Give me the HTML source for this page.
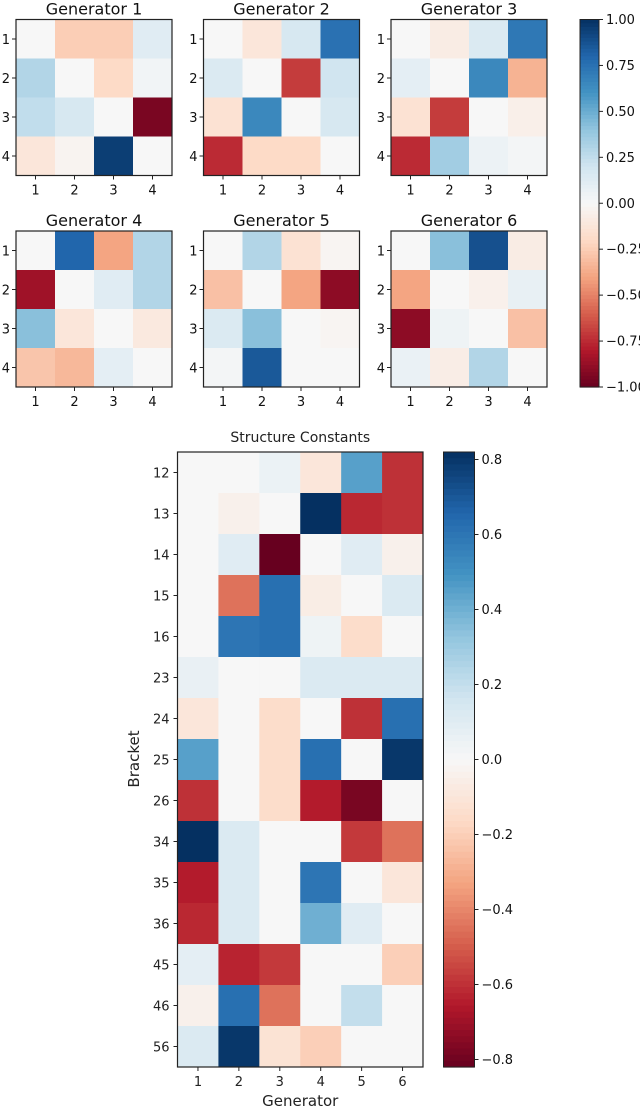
<!DOCTYPE html>
<html><head><meta charset="utf-8"><style>
body{margin:0;background:#fff;width:640px;height:1110px;overflow:hidden}
svg{display:block;font-family:"DejaVu Sans","Liberation Sans",sans-serif}
</style></head><body>
<svg id="chart" width="640" height="1110" viewBox="0 0 640 1110"></svg>
<script>
const genTitles = ["Generator 1","Generator 2","Generator 3","Generator 4","Generator 5","Generator 6"];
const smallTicks = ["1","2","3","4"];
const gen1 = [[0,-0.25,-0.25,0.12],[0.3,0,-0.2,0.03],[0.25,0.17,0,-0.95],[-0.12,-0.03,0.95,0]];
const gen2 = [[0,-0.12,0.17,0.75],[0.15,0,-0.7,0.2],[-0.15,0.65,0,0.17],[-0.75,-0.2,-0.2,0]];
const gen3 = [[0,-0.08,0.15,0.72],[0.1,0,0.65,-0.35],[-0.15,-0.7,0,-0.06],[-0.75,0.35,0.06,0.02]];
const gen4 = [[0,0.8,-0.4,0.3],[-0.85,0,0.12,0.3],[0.42,-0.12,0,-0.1],[-0.28,-0.33,0.1,0]];
const gen5 = [[0,0.3,-0.15,-0.02],[-0.3,0,-0.4,-0.9],[0.15,0.42,0,-0.02],[0.02,0.85,0,0]];
const gen6 = [[0,0.42,0.88,-0.08],[-0.4,0,-0.05,0.08],[-0.9,0.05,0,-0.3],[0.07,-0.07,0.3,0]];
const topCbTicks = [1,0.75,0.5,0.25,0,-0.25,-0.5,-0.75,-1];
const brackets = ["12","13","14","15","16","23","24","25","26","34","35","36","45","46","56"];
const generators = ["1","2","3","4","5","6"];
const sc = [
[0,0,0.05,-0.1,0.45,-0.6],
[0,-0.04,0,0.82,-0.62,-0.6],
[0,0.1,-0.82,0,0.1,-0.04],
[0,-0.45,0.62,-0.06,0,0.12],
[0,0.6,0.62,0.04,-0.15,0],
[0.06,0,0,0.12,0.12,0.12],
[-0.1,0,-0.15,0,-0.6,0.62],
[0.45,0,-0.15,0.62,0,0.8],
[-0.6,0,-0.15,-0.65,-0.78,0],
[0.82,0.12,0,0,-0.58,-0.45],
[-0.65,0.12,0,0.6,0,-0.1],
[-0.62,0.12,0,0.4,0.1,0],
[0.08,-0.63,-0.58,0,0,-0.2],
[-0.04,0.62,-0.45,0,0.2,0],
[0.12,0.8,-0.12,-0.2,0,0]];
const botCbTicks = [0.8,0.6,0.4,0.2,0,-0.2,-0.4,-0.6,-0.8];
const botVmax = 0.82;

const stops=["#67001f","#b2182b","#d6604d","#f4a582","#fddbc7","#f7f7f7","#d1e5f0","#92c5de","#4393c3","#2166ac","#053061"];
function hx(s){return [1,3,5].map(i=>parseInt(s.substr(i,2),16));}
const S=stops.map(hx);
function cmap(t){t=Math.max(0,Math.min(1,t));const f=t*10;const i=Math.min(9,Math.floor(f));const r=f-i;
 const c=S[i].map((v,k)=>Math.round(v+(S[i+1][k]-v)*r));return `rgb(${c[0]},${c[1]},${c[2]})`;}
const svg=document.getElementById('chart');const NS="http://www.w3.org/2000/svg";
function el(tag,attrs,parent){const e=document.createElementNS(NS,tag);for(const k in attrs)e.setAttribute(k,attrs[k]);(parent||svg).appendChild(e);return e;}
function txt(s,attrs,parent){const e=el('text',attrs,parent);e.textContent=s;return e;}

const gens=[gen1,gen2,gen3,gen4,gen5,gen6];
const gx=[16,203.5,391], gy=[19.5,231], gs=156;
gens.forEach((m,g)=>{
 const x0=gx[g%3], y0=gy[Math.floor(g/3)], cs=gs/4;
 const grp=el('g',{});
 
 
 const t=txt(genTitles[g],{x:x0+gs/2,y:y0-5,'text-anchor':'middle','font-size':16,fill:'#111'},grp);
 
 
 m.forEach((row,r)=>row.forEach((v,c)=>{
  const rc=el('rect',{x:x0+c*cs,y:y0+r*cs,width:cs+0.5,height:cs+0.5,fill:cmap((v+1)/2)},grp);
  
  
 }));
 el('rect',{x:x0,y:y0,width:gs,height:gs,fill:'none',stroke:'#222','stroke-width':1.2},grp);
 smallTicks.forEach((s,i)=>{
  const cx=x0+(i+0.5)*cs, cy=y0+(i+0.5)*cs;
  el('line',{x1:cx,x2:cx,y1:y0+gs,y2:y0+gs+4,stroke:'#222'},grp);
  txt(s,{x:cx,y:y0+gs+19,'text-anchor':'middle','font-size':13,fill:'#111'},grp);
  el('line',{x1:x0-4,x2:x0,y1:cy,y2:cy,stroke:'#222'},grp);
  txt(s,{x:x0-6,y:cy+5,'text-anchor':'end','font-size':13,fill:'#111'},grp);
 });
});
function colorbar(name,x,y,w,h,vmin,vmax,ticks,fmt,fs){
 const g=el('g',{});
 
 
 const n=100;
 for(let i=0;i<n;i++){el('rect',{x:x,y:y+i*h/n,width:w,height:h/n+0.6,fill:cmap(1-(i+0.5)/n)},g);}
 el('rect',{x:x,y:y,width:w,height:h,fill:'none',stroke:'#222','stroke-width':1},g);
 ticks.forEach(v=>{const ty=y+h*(vmax-v)/(vmax-vmin);
  el('line',{x1:x+w,x2:x+w+4,y1:ty,y2:ty,stroke:'#222'},g);
  txt(fmt(v),{x:x+w+7,y:ty+4.5,'font-size':fs,fill:'#111'},g);});
}
colorbar('colorbar-generators',580,19.5,19,367.5,-1,1,topCbTicks,v=>(v<0?'\u2212':'')+Math.abs(v).toFixed(2),13);

const bx=177.5, by=452, bw=245.5, bh=615;
const cw=bw/generators.length, ch=bh/brackets.length;
const xs=i=>bx+i*cw, ys=i=>by+i*ch;
const bg=el('g',{});


sc.forEach((row,r)=>row.forEach((v,c)=>{
 const rc=el('rect',{x:xs(c),y:ys(r),width:cw+0.5,height:ch+0.5,fill:cmap((v+botVmax)/(2*botVmax))},bg);
 
 
}));
el('rect',{x:bx,y:by,width:bw,height:bh,fill:'none',stroke:'#222','stroke-width':1.2},bg);
brackets.forEach((s,i)=>{const cy=ys(i+0.5);
 el('line',{x1:bx-4,x2:bx,y1:cy,y2:cy,stroke:'#222'},bg);
 txt(s,{x:bx-8,y:cy+5,'text-anchor':'end','font-size':13,fill:'#222'},bg);});
generators.forEach((s,i)=>{const cx=xs(i+0.5);
 el('line',{x1:cx,x2:cx,y1:by+bh,y2:by+bh+4,stroke:'#222'},bg);
 txt(s,{x:cx,y:by+bh+19,'text-anchor':'middle','font-size':13,fill:'#222'},bg);});
const st=txt('Structure Constants',{x:bx+bw/2,y:442,'text-anchor':'middle','font-size':14,fill:'#222'});


const xt=txt('Generator',{x:bx+bw/2,y:1106,'text-anchor':'middle','font-size':15,fill:'#222'});


const yt=txt('Bracket',{x:0,y:0,'text-anchor':'middle','font-size':15,fill:'#222',transform:'translate(139,759) rotate(-90)'});


colorbar('colorbar-structure-constants',443.5,452,31,615,-botVmax,botVmax,botCbTicks,v=>(v<0?'\u2212':'')+Math.abs(v).toFixed(1),13);
</script>
</body></html>
